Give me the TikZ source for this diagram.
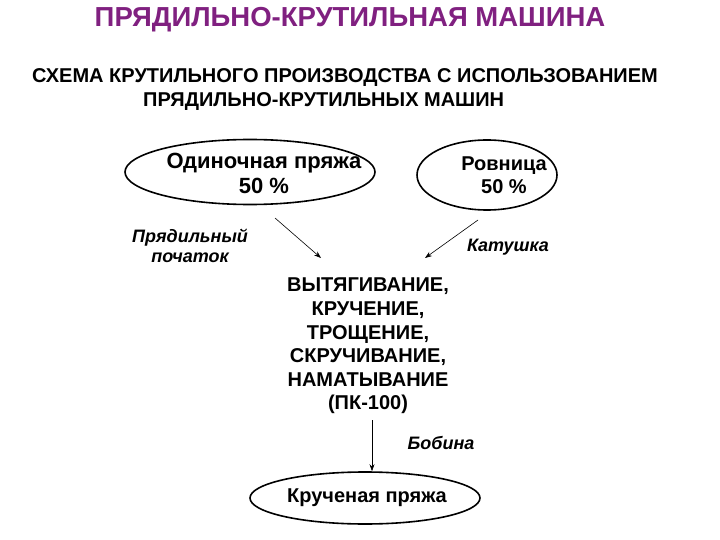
\documentclass[tikz,border=0pt]{standalone}
\usepackage{fontspec}
\setmainfont{Liberation Sans}
\usetikzlibrary{shapes.geometric,arrows.meta}
\definecolor{ttl}{RGB}{128,32,128}
\begin{document}
\begin{tikzpicture}[x=1pt,y=-1pt,
  txt/.style={font=\bfseries\fontsize{20}{23}\selectfont,align=center,inner sep=0pt},
  itl/.style={font=\bfseries\itshape\fontsize{18}{20}\selectfont,align=center,inner sep=0pt},
  ell/.style={draw,line width=1.6pt,ellipse,inner sep=0pt},
  arr/.style={-{Stealth[length=7pt,width=5pt]},line width=0.6pt}]
\useasboundingbox (0,0) rectangle (720,540);
\node[font=\bfseries\fontsize{27.5}{30}\selectfont,text=ttl] (title) at (350,20) {ПРЯДИЛЬНО-КРУТИЛЬНАЯ МАШИНА};
\node[txt,anchor=west] (s1) at (32,78) {СХЕМА КРУТИЛЬНОГО ПРОИЗВОДСТВА С ИСПОЛЬЗОВАНИЕМ};
\node[txt,anchor=west] (s2) at (143,102) {ПРЯДИЛЬНО-КРУТИЛЬНЫХ МАШИН};
\node[ell,minimum width=250,minimum height=65] (e1) at (250,172) {};
\node[txt,font=\bfseries\fontsize{22}{25}\selectfont] (t1) at (264,173) {Одиночная пряжа\\50 \%};
\node[ell,minimum width=140,minimum height=70] (e2) at (487,175) {};
\node[txt] (t2) at (504,175) {Ровница\\50 \%};
\node[itl] (pp) at (190,246) {Прядильный\\початок};
\node[itl] (kat) at (508,247) {Катушка};
\node[txt,font=\bfseries\fontsize{20}{23.6}\selectfont] (mid) at (368,346) {ВЫТЯГИВАНИЕ,\\КРУЧЕНИЕ,\\ТРОЩЕНИЕ,\\СКРУЧИВАНИЕ,\\НАМАТЫВАНИЕ\\(ПК-100)};
\coordinate (a1s) at (275,218); \coordinate (a1e) at (321,258);
\coordinate (a2s) at (478,220); \coordinate (a2e) at (425,258);
\draw[arr] (a1s) -- (a1e);
\draw[arr] (a2s) -- (a2e);
\node[itl] (bob) at (441,443) {Бобина};
\node[ell,minimum width=230,minimum height=52] (e3) at (365,498) {};
\node[txt] (t3) at (367,498) {Крученая пряжа};
\coordinate (a3s) at (372,420);
\draw[arr] (a3s) -- (e3.north -| a3s);
\end{tikzpicture}
\end{document}
